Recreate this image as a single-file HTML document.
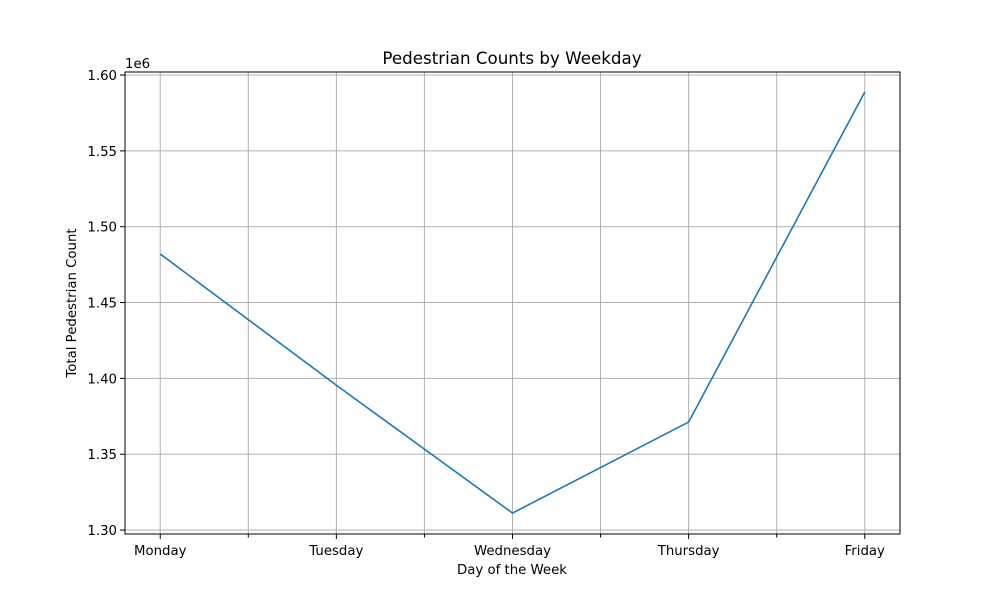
<!DOCTYPE html>
<html><head><meta charset="utf-8"><style>body{margin:0;background:#fff}svg{display:block;font-family:"DejaVu Sans","Liberation Sans",sans-serif}</style></head>
<body>
<svg id="chart" width="1000" height="600" viewBox="0 0 1000 600" xmlns="http://www.w3.org/2000/svg">
<rect width="1000" height="600" fill="#fff"/>
<g id="grid"></g><g id="marks"></g><g id="axes"></g>
<text x="512" y="64" text-anchor="middle" font-size="16.7">Pedestrian Counts by Weekday</text>
<text x="512" y="574" text-anchor="middle" font-size="13.3">Day of the Week</text>
<text transform="translate(76,303) rotate(-90)" text-anchor="middle" font-size="13.3">Total Pedestrian Count</text>
<text x="125" y="68" font-size="13.3">1e6</text>
</svg>
<script>
const categories=["Monday","Tuesday","Wednesday","Thursday","Friday"];
const counts=[1.482,1.3955,1.3112,1.3712,1.5888];
const yTicks=[1.30,1.35,1.40,1.45,1.50,1.55,1.60];
const L=125,R=900,T=72,B=534,xmin=-0.2,xmax=4.2,ymin=1.2974,ymax=1.602;
const NS="http://www.w3.org/2000/svg";
const X=v=>L+(v-xmin)/(xmax-xmin)*(R-L);
const Y=v=>B-(v-ymin)/(ymax-ymin)*(B-T);
function mk(tag,attrs,parent,txt){const e=document.createElementNS(NS,tag);for(const k in attrs)e.setAttribute(k,attrs[k]);if(txt!==undefined)e.textContent=txt;parent.appendChild(e);return e;}
const grid=document.getElementById('grid'),axes=document.getElementById('axes'),marks=document.getElementById('marks');
for(let i=0;i<=2*(categories.length-1);i++){const x=X(i/2);
 const g=mk('line',{x1:x,x2:x,y1:T,y2:B,stroke:'#b0b0b0','stroke-width':1},grid);
 
 
 const t=mk('line',{x1:x,x2:x,y1:B,y2:B+(i%2?3.5:5),stroke:'#000','stroke-width':1},axes);
 
 }
categories.forEach((c,i)=>{const t=mk('text',{x:X(i),y:B+21,'text-anchor':'middle','font-size':13.3},axes,c);
 
 });
yTicks.forEach(v=>{const y=Y(v);
 const g=mk('line',{x1:L,x2:R,y1:y,y2:y,stroke:'#b0b0b0','stroke-width':1},grid);
 
 
 mk('line',{x1:L-5,x2:L,y1:y,y2:y,stroke:'#000'},axes);
 const t=mk('text',{x:L-8,y:y+5,'text-anchor':'end','font-size':13.3},axes,v.toFixed(2));
 
 });
const f=mk('rect',{x:L,y:T,width:R-L,height:B-T,fill:'none',stroke:'#000','stroke-width':1},axes);


const p=mk('polyline',{points:counts.map((v,i)=>X(i)+','+Y(v)).join(' '),fill:'none',stroke:'#1f77b4','stroke-width':1.6},marks);


</script>
</body></html>
